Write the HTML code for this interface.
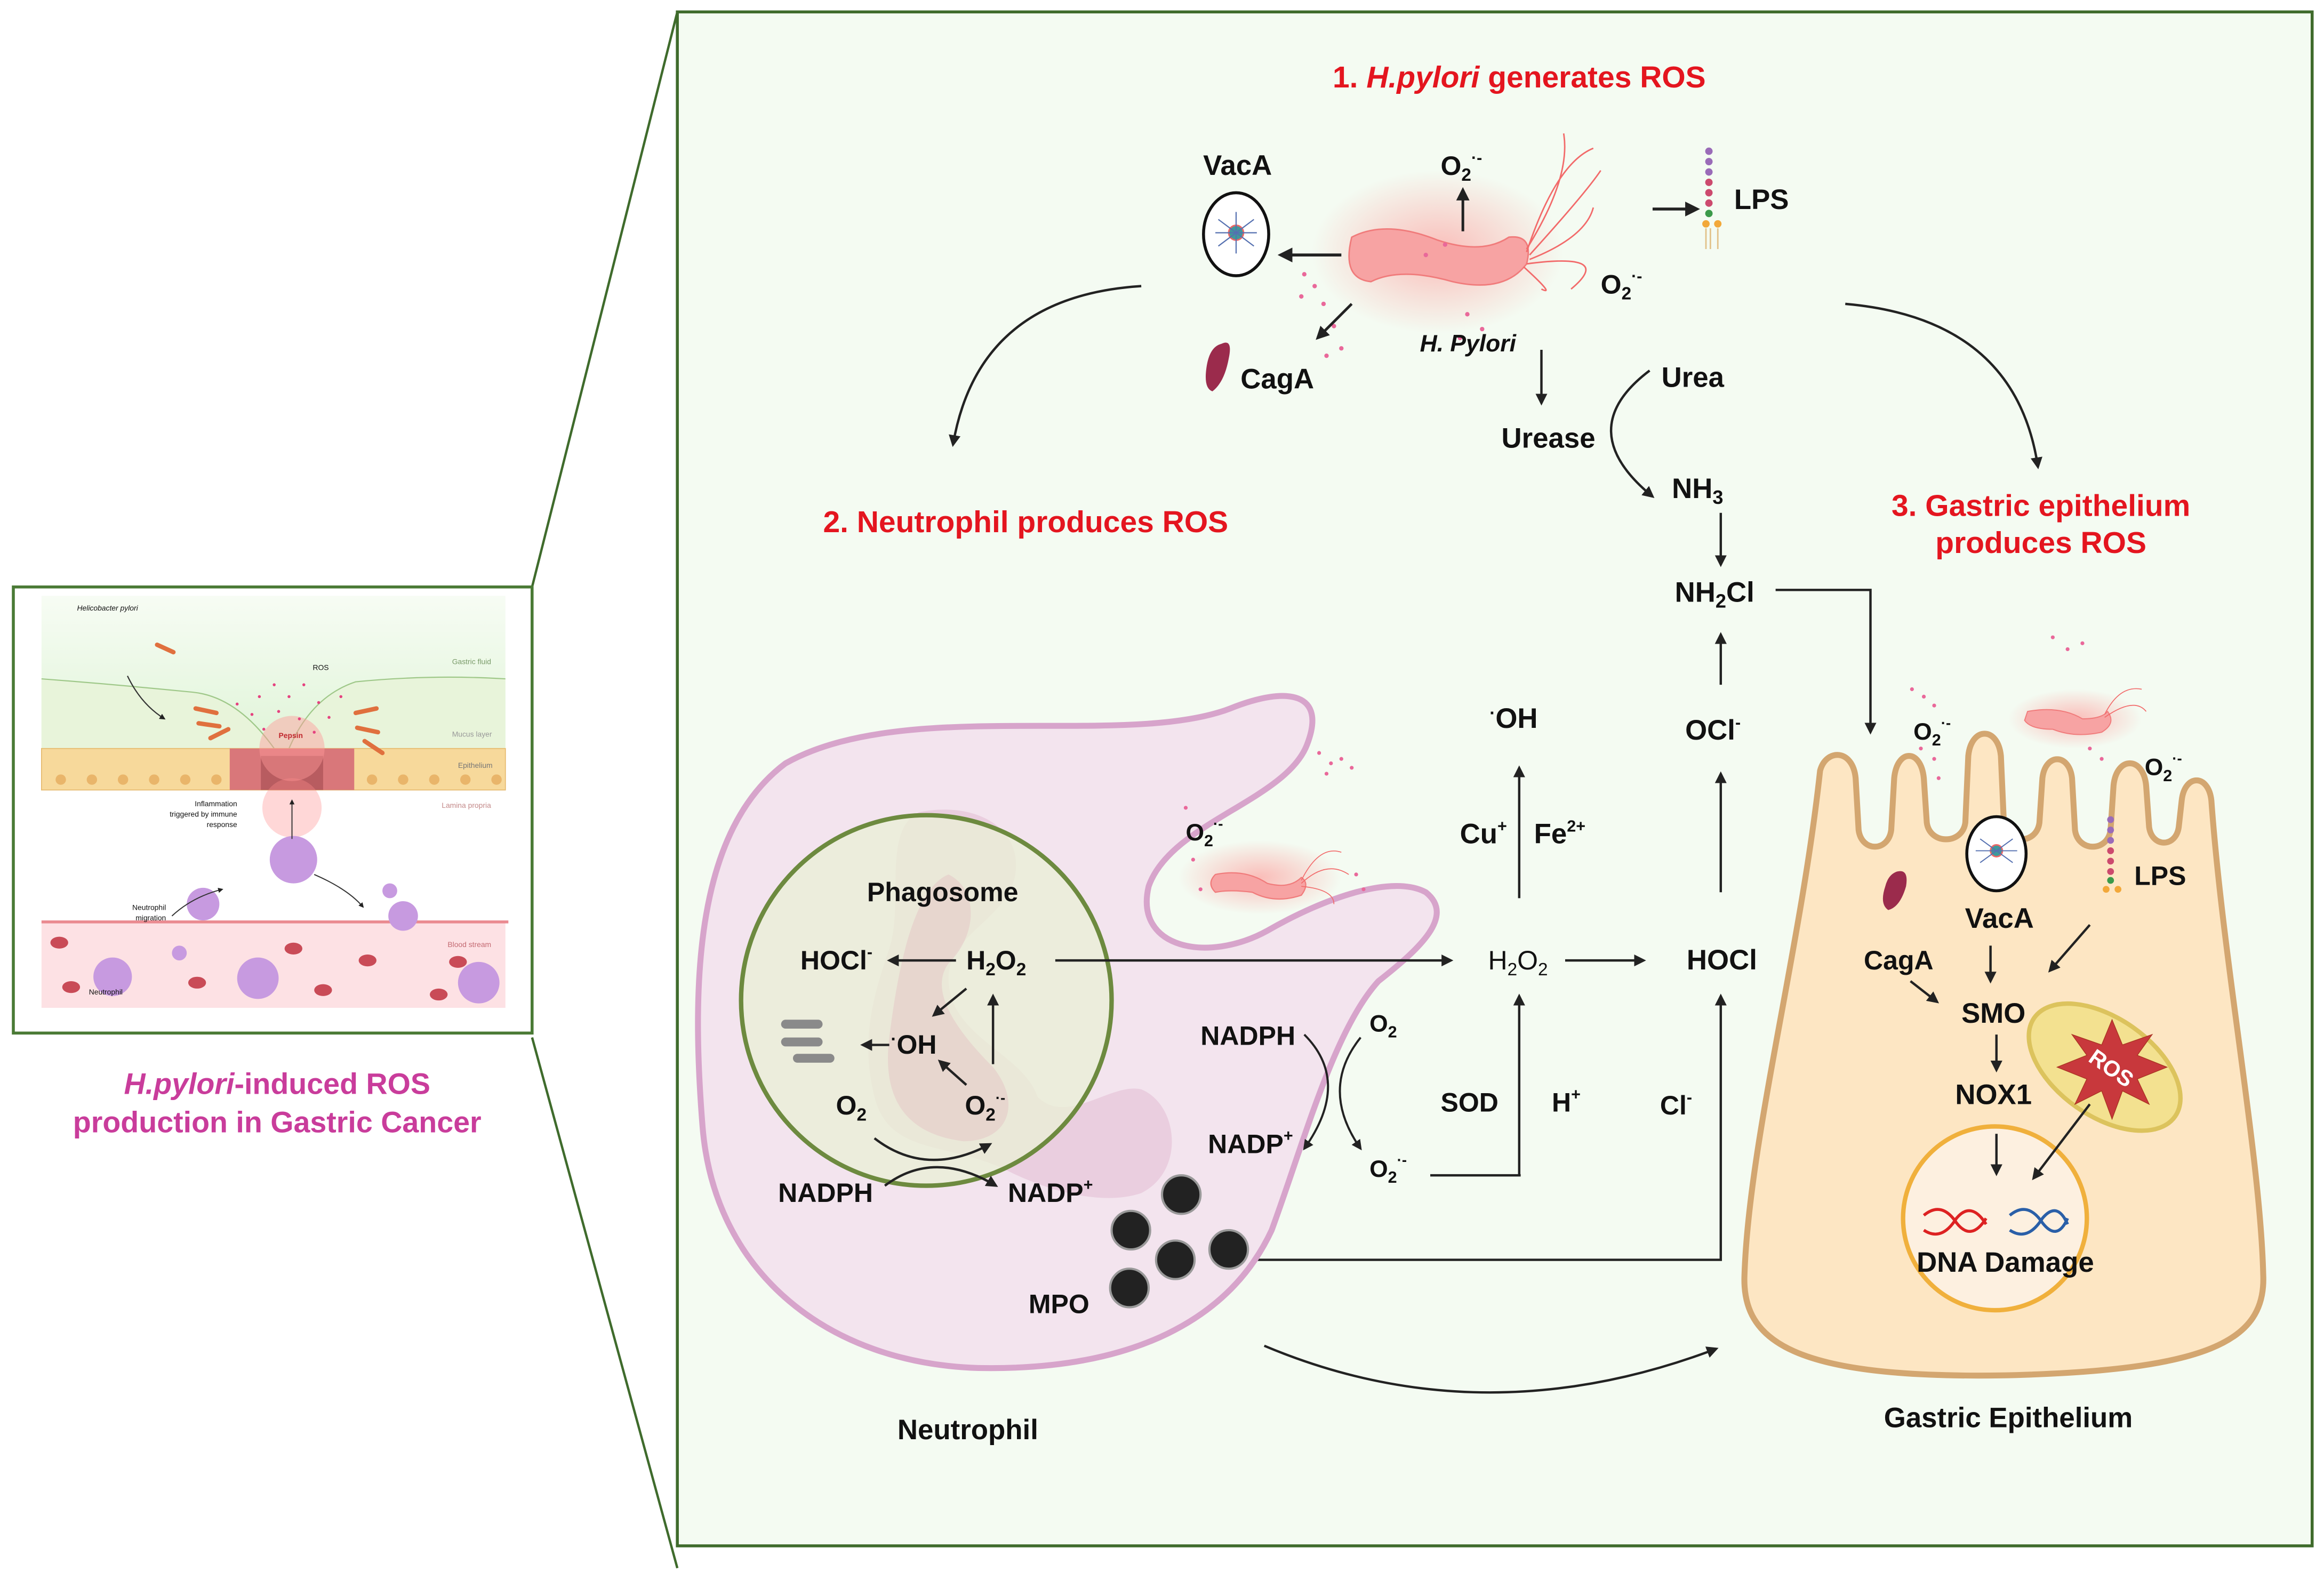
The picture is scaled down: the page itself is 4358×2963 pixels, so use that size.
<!DOCTYPE html>
<html><head><meta charset="utf-8"><style>
html,body{margin:0;padding:0;background:#fff;}
svg{display:block;}
text{font-family:"Liberation Sans",sans-serif;font-weight:bold;fill:#111;}
</style></head><body>
<svg width="4358" height="2963" viewBox="0 0 1568 1066" xmlns="http://www.w3.org/2000/svg">
<defs>
<marker id="ah" viewBox="0 0 10 10" refX="8" refY="5" markerWidth="5" markerHeight="5" orient="auto-start-reverse"><path d="M0,0 L10,5 L0,10 z" fill="#222"/></marker>
<radialGradient id="glow"><stop offset="0" stop-color="#ff8a8a" stop-opacity="0.55"/><stop offset="1" stop-color="#ff8a8a" stop-opacity="0"/></radialGradient>
<linearGradient id="fluid" x1="0" y1="0" x2="0" y2="1"><stop offset="0" stop-color="#f7fcf4"/><stop offset="1" stop-color="#def4d6"/></linearGradient>
</defs>
<rect width="1568" height="1066" fill="#fff"/>
<rect x="457" y="8" width="1103" height="1035" fill="#f4fbf2" stroke="#3f6b2c" stroke-width="2"/>
<line x1="359" y1="396" x2="457" y2="8" stroke="#3f6b2c" stroke-width="1.6"/>
<line x1="359" y1="700" x2="457" y2="1058" stroke="#3f6b2c" stroke-width="1.6"/>
<rect x="9" y="396" width="350" height="301" fill="#fff" stroke="#4a7a35" stroke-width="2"/>
<rect x="28" y="402" width="313" height="110" fill="url(#fluid)"/>
<path d="M28,458 Q80,462 130,467 Q160,470 185,505 L195,505 Q210,470 240,460 Q290,455 341,458 L341,512 L28,512 Z" fill="#e8f4da"/>
<path d="M28,458 Q80,462 130,467 Q160,470 185,505 M195,505 Q210,470 240,460 Q290,455 341,458" fill="none" stroke="#9fc889" stroke-width="0.8"/>
<rect x="28" y="505" width="313" height="28" fill="#f7d99b" stroke="#e5b96c" stroke-width="0.6"/>
<g fill="#e9b56a">
<circle cx="41" cy="526" r="3.5"/><circle cx="62" cy="526" r="3.5"/><circle cx="83" cy="526" r="3.5"/><circle cx="104" cy="526" r="3.5"/><circle cx="125" cy="526" r="3.5"/><circle cx="146" cy="526" r="3.5"/><circle cx="251" cy="526" r="3.5"/><circle cx="272" cy="526" r="3.5"/><circle cx="293" cy="526" r="3.5"/><circle cx="314" cy="526" r="3.5"/><circle cx="335" cy="526" r="3.5"/>
</g>
<rect x="155" y="505" width="84" height="28" fill="#d9777a"/>
<rect x="176" y="510" width="42" height="23" fill="#b85c60"/>
<circle cx="197" cy="505" r="22" fill="#ff9a9a" opacity="0.45"/>
<circle cx="197" cy="545" r="20" fill="#ff8d8d" opacity="0.35"/>
<rect x="28" y="622" width="313" height="58" fill="#fde1e4"/>
<line x1="28" y1="622" x2="343" y2="622" stroke="#ea8a90" stroke-width="2"/>
<g fill="#c94b57">
<ellipse cx="40" cy="636" rx="6" ry="4"/><ellipse cx="48" cy="666" rx="6" ry="4"/><ellipse cx="133" cy="663" rx="6" ry="4"/><ellipse cx="198" cy="640" rx="6" ry="4"/><ellipse cx="248" cy="648" rx="6" ry="4"/><ellipse cx="309" cy="649" rx="6" ry="4"/><ellipse cx="218" cy="668" rx="6" ry="4"/><ellipse cx="296" cy="671" rx="6" ry="4"/>
</g>
<g fill="#c79ae0">
<circle cx="76" cy="659" r="13"/><circle cx="174" cy="660" r="14"/><circle cx="323" cy="663" r="14"/><circle cx="198" cy="580" r="16"/><circle cx="137" cy="610" r="11"/><circle cx="272" cy="618" r="10"/><circle cx="263" cy="601" r="5"/><circle cx="121" cy="643" r="5"/>
</g>
<g fill="#e5427f">
<circle cx="175" cy="470" r="1"/><circle cx="185" cy="462" r="1"/><circle cx="195" cy="470" r="1"/><circle cx="205" cy="462" r="1"/><circle cx="215" cy="474" r="1"/><circle cx="170" cy="482" r="1"/><circle cx="188" cy="480" r="1"/><circle cx="202" cy="485" r="1"/><circle cx="222" cy="484" r="1"/><circle cx="178" cy="492" r="1"/><circle cx="212" cy="494" r="1"/><circle cx="160" cy="475" r="1"/><circle cx="230" cy="470" r="1"/>
</g>
<g stroke="#e0703e" stroke-width="3" stroke-linecap="round">
<line x1="106" y1="435" x2="117" y2="440"/><line x1="132" y1="478" x2="146" y2="481"/><line x1="134" y1="488" x2="148" y2="490"/><line x1="142" y1="498" x2="154" y2="492"/><line x1="240" y1="481" x2="254" y2="478"/><line x1="241" y1="491" x2="255" y2="494"/><line x1="246" y1="500" x2="258" y2="508"/>
</g>
<path d="M86,456 Q95,475 111,485" fill="none" stroke="#333" stroke-width="0.8" marker-end="url(#ah)"/>
<path d="M116,618 Q130,605 150,600" fill="none" stroke="#333" stroke-width="0.7" marker-end="url(#ah)"/>
<path d="M212,590 Q235,600 245,612" fill="none" stroke="#333" stroke-width="0.7" marker-end="url(#ah)"/>
<line x1="197" y1="566" x2="197" y2="540" stroke="#333" stroke-width="0.7" marker-end="url(#ah)"/>
<g style="font-weight:normal" font-size="5">
<text x="52" y="412" font-style="italic" style="font-weight:normal">Helicobacter pylori</text>
<text x="211" y="452" style="font-weight:normal">ROS</text>
<text x="305" y="448" style="font-weight:normal;fill:#7a9b6a">Gastric fluid</text>
<text x="305" y="497" style="font-weight:normal;fill:#999">Mucus layer</text>
<text x="309" y="518" style="font-weight:normal;fill:#777">Epithelium</text>
<text x="298" y="545" style="font-weight:normal;fill:#c48a8a">Lamina propria</text>
<text x="302" y="639" style="font-weight:normal;fill:#c46a72">Blood stream</text>
<text x="160" y="544" text-anchor="end" style="font-weight:normal">Inflammation</text>
<text x="160" y="551" text-anchor="end" style="font-weight:normal">triggered by immune</text>
<text x="160" y="558" text-anchor="end" style="font-weight:normal">response</text>
<text x="112" y="614" text-anchor="end" style="font-weight:normal">Neutrophil</text>
<text x="112" y="621" text-anchor="end" style="font-weight:normal">migration</text>
<text x="60" y="671" style="font-weight:normal">Neutrophil</text>
<text x="188" y="498" style="fill:#c0272d" font-size="5">Pepsin</text>
</g>
<text x="187" y="738" text-anchor="middle" font-size="20" style="fill:#c93c9b"><tspan font-style="italic">H.pylori</tspan>-induced ROS</text>
<text x="187" y="764" text-anchor="middle" font-size="20" style="fill:#c93c9b">production in Gastric Cancer</text>

<text x="1025" y="59" text-anchor="middle" font-size="20.5" style="fill:#e4151f">1.  <tspan font-style="italic">H.pylori</tspan> generates ROS</text>
<text x="692" y="359" text-anchor="middle" font-size="20.5" style="fill:#e4151f">2. Neutrophil produces ROS</text>
<text x="1377" y="348" text-anchor="middle" font-size="20.5" style="fill:#e4151f">3. Gastric epithelium</text>
<text x="1377" y="373" text-anchor="middle" font-size="20.5" style="fill:#e4151f">produces ROS</text>

<path d="M770,193 Q660,200 643,300" fill="none" stroke="#222" stroke-width="1.6" marker-end="url(#ah)"/>
<path d="M1245,205 Q1360,215 1375,315" fill="none" stroke="#222" stroke-width="1.6" marker-end="url(#ah)"/>

<ellipse cx="970" cy="170" rx="85" ry="55" fill="url(#glow)"/>
<path d="M912,160 Q935,148 970,162 Q1000,172 1018,160 Q1035,158 1030,178 Q1015,198 980,190 Q945,180 925,190 Q905,188 912,160 Z" fill="#f7a3a3" stroke="#f07b7b" stroke-width="1"/>
<g fill="none" stroke="#f26a6a" stroke-width="1">
<path d="M1030,168 Q1060,120 1055,90"/><path d="M1030,170 Q1050,110 1075,100"/><path d="M1032,172 Q1070,130 1080,115"/><path d="M1032,175 Q1070,160 1075,140"/><path d="M1030,178 Q1090,170 1060,195"/><path d="M1028,180 Q1050,200 1040,195"/>
</g>
<g fill="#e9689a">
<circle cx="880" cy="185" r="1.5"/><circle cx="887" cy="193" r="1.5"/><circle cx="878" cy="200" r="1.5"/><circle cx="893" cy="205" r="1.5"/><circle cx="900" cy="220" r="1.5"/><circle cx="905" cy="235" r="1.5"/><circle cx="895" cy="240" r="1.5"/><circle cx="990" cy="212" r="1.5"/><circle cx="1000" cy="222" r="1.5"/><circle cx="985" cy="228" r="1.5"/><circle cx="975" cy="165" r="1.5"/><circle cx="962" cy="172" r="1.5"/>
</g>
<ellipse cx="834" cy="158" rx="22" ry="28" fill="#fff" stroke="#111" stroke-width="2"/>
<circle cx="834" cy="157" r="5" fill="#3f9a9a" stroke="#e66" stroke-width="1"/>
<g stroke="#5570b0" stroke-width="0.8"><line x1="822" y1="148" x2="846" y2="166"/><line x1="822" y1="166" x2="846" y2="148"/><line x1="834" y1="143" x2="834" y2="171"/><line x1="820" y1="157" x2="848" y2="157"/></g>
<text x="835" y="118" text-anchor="middle" font-size="19">VacA</text>
<line x1="905" y1="172" x2="864" y2="172" stroke="#222" stroke-width="2" marker-end="url(#ah)"/>
<line x1="987" y1="156" x2="987" y2="128" stroke="#222" stroke-width="1.8" marker-end="url(#ah)"/>
<text x="972" y="118" font-size="18">O<tspan font-size="12" dy="4">2</tspan><tspan font-size="11" dy="-12">·-</tspan></text>
<text x="1080" y="198" font-size="18">O<tspan font-size="12" dy="4">2</tspan><tspan font-size="11" dy="-12">·-</tspan></text>
<line x1="1115" y1="141" x2="1145" y2="141" stroke="#222" stroke-width="2" marker-end="url(#ah)"/>
<g fill="#9a6bb8"><circle cx="1153" cy="102" r="2.5"/><circle cx="1153" cy="109" r="2.5"/><circle cx="1153" cy="116" r="2.5"/></g>
<g fill="#cc4a6e"><circle cx="1153" cy="123" r="2.5"/><circle cx="1153" cy="130" r="2.5"/><circle cx="1153" cy="137" r="2.5"/></g>
<circle cx="1153" cy="144" r="2.5" fill="#3b9a4a"/>
<circle cx="1151" cy="151" r="2.5" fill="#f2a83a"/><circle cx="1159" cy="151" r="2.5" fill="#f2a83a"/>
<g stroke="#e2c28a" stroke-width="1"><line x1="1151" y1="154" x2="1151" y2="168"/><line x1="1154" y1="154" x2="1154" y2="168"/><line x1="1159" y1="154" x2="1159" y2="168"/></g>
<text x="1170" y="141" font-size="19">LPS</text>
<path d="M824,232 Q832,228 829,242 Q826,258 818,264 Q812,262 814,248 Q816,234 824,232 Z" fill="#9b2b4c"/>
<text x="837" y="262" font-size="19">CagA</text>
<line x1="912" y1="205" x2="889" y2="228" stroke="#222" stroke-width="1.8" marker-end="url(#ah)"/>
<text x="958" y="237" font-size="16" font-style="italic">H. Pylori</text>
<line x1="1040" y1="236" x2="1040" y2="272" stroke="#222" stroke-width="1.6" marker-end="url(#ah)"/>
<text x="1013" y="302" font-size="19">Urease</text>
<text x="1121" y="261" font-size="19">Urea</text>
<path d="M1113,250 Q1060,290 1115,335" fill="none" stroke="#222" stroke-width="1.6" marker-end="url(#ah)"/>
<text x="1128" y="336" font-size="19">NH<tspan font-size="13" dy="4">3</tspan></text>
<line x1="1161" y1="346" x2="1161" y2="381" stroke="#222" stroke-width="1.6" marker-end="url(#ah)"/>
<text x="1130" y="406" font-size="19">NH<tspan font-size="13" dy="4">2</tspan><tspan dy="-4">Cl</tspan></text>
<polyline points="1198,398 1262,398 1262,494" fill="none" stroke="#222" stroke-width="1.6" marker-end="url(#ah)"/>
<line x1="1161" y1="462" x2="1161" y2="428" stroke="#222" stroke-width="1.6" marker-end="url(#ah)"/>
<text x="1137" y="499" font-size="19">OCl<tspan font-size="11" dy="-8">-</tspan></text>
<line x1="1161" y1="602" x2="1161" y2="522" stroke="#222" stroke-width="1.6" marker-end="url(#ah)"/>
<text x="1138" y="654" font-size="19">HOCl</text>
<text x="1005" y="491" font-size="19"><tspan font-size="12" dy="-6">·</tspan><tspan dy="6">OH</tspan></text>
<line x1="1025" y1="606" x2="1025" y2="518" stroke="#222" stroke-width="1.6" marker-end="url(#ah)"/>
<text x="985" y="569" font-size="19">Cu<tspan font-size="11" dy="-8">+</tspan></text>
<text x="1035" y="569" font-size="19">Fe<tspan font-size="11" dy="-8">2+</tspan></text>
<text x="1004" y="654" font-size="18" style="font-weight:normal">H<tspan font-size="12" dy="4">2</tspan><tspan dy="-4">O</tspan><tspan font-size="12" dy="4">2</tspan></text>
<line x1="1056" y1="648" x2="1109" y2="648" stroke="#222" stroke-width="1.6" marker-end="url(#ah)"/>
<line x1="1025" y1="793" x2="1025" y2="672" stroke="#222" stroke-width="1.6" marker-end="url(#ah)"/>
<line x1="965" y1="793" x2="1026" y2="793" stroke="#222" stroke-width="1.6"/>
<text x="972" y="750" font-size="18">SOD</text>
<text x="1047" y="750" font-size="18">H<tspan font-size="11" dy="-8">+</tspan></text>
<text x="1120" y="752" font-size="18">Cl<tspan font-size="11" dy="-8">-</tspan></text>
<polyline points="848,850 1161,850 1161,672" fill="none" stroke="#222" stroke-width="1.6" marker-end="url(#ah)"/>
<path d="M853,908 Q1000,970 1158,910" fill="none" stroke="#222" stroke-width="1.6" marker-end="url(#ah)"/>

<path d="M530,515 C610,470 760,505 830,478 C870,462 895,468 882,502 C868,540 790,555 775,598 C765,640 815,650 855,628 C895,605 940,590 962,602 C982,618 958,640 930,662 C900,695 880,770 858,830 C830,890 765,925 660,923 C560,920 482,860 474,760 C466,660 470,560 530,515 Z" fill="#f3e4ee" stroke="#d7a4cb" stroke-width="4"/>
<path d="M620,548 C660,540 690,560 685,590 C680,620 640,630 640,660 C640,700 690,710 700,740 C720,760 750,730 770,735 C795,745 800,790 770,805 C740,815 700,800 680,790 C640,770 600,780 590,740 C580,700 590,670 600,640 C610,610 595,560 620,548 Z" fill="#e2bcd3" opacity="0.55"/>
<circle cx="625" cy="675" r="125" fill="#eaf0d6" fill-opacity="0.75" stroke="#6d8a3f" stroke-width="3"/>
<path d="M640,590 C660,600 660,630 640,650 C625,670 650,700 670,720 C690,745 680,770 650,770 C610,765 595,740 600,700 C605,660 615,600 640,590 Z" fill="#e5c9c8" opacity="0.6"/>
<text x="636" y="608" text-anchor="middle" font-size="18">Phagosome</text>
<text x="540" y="654" font-size="18">HOCl<tspan font-size="11" dy="-8">-</tspan></text>
<line x1="645" y1="648" x2="600" y2="648" stroke="#222" stroke-width="1.6" marker-end="url(#ah)"/>
<text x="652" y="654" font-size="18">H<tspan font-size="12" dy="4">2</tspan><tspan dy="-4">O</tspan><tspan font-size="12" dy="4">2</tspan></text>
<line x1="652" y1="667" x2="630" y2="685" stroke="#222" stroke-width="1.6" marker-end="url(#ah)"/>
<line x1="670" y1="718" x2="670" y2="672" stroke="#222" stroke-width="1.6" marker-end="url(#ah)"/>
<text x="601" y="711" font-size="18"><tspan font-size="12" dy="-6">·</tspan><tspan dy="6">OH</tspan></text>
<line x1="600" y1="705" x2="582" y2="705" stroke="#222" stroke-width="1.6" marker-end="url(#ah)"/>
<g fill="#8a8a8a"><rect x="527" y="688" width="28" height="6" rx="3"/><rect x="527" y="700" width="28" height="6" rx="3"/><rect x="535" y="711" width="28" height="6" rx="3"/></g>
<line x1="652" y1="732" x2="634" y2="716" stroke="#222" stroke-width="1.6" marker-end="url(#ah)"/>
<text x="564" y="752" font-size="18">O<tspan font-size="12" dy="4">2</tspan></text>
<text x="651" y="752" font-size="18">O<tspan font-size="12" dy="4">2</tspan><tspan font-size="10" dy="-12">·-</tspan></text>
<path d="M590,768 Q625,795 668,772" fill="none" stroke="#222" stroke-width="1.6" marker-end="url(#ah)"/>
<text x="525" y="811" font-size="18">NADPH</text>
<path d="M597,800 Q630,775 672,800" fill="none" stroke="#222" stroke-width="1.6" marker-end="url(#ah)"/>
<text x="680" y="811" font-size="18">NADP<tspan font-size="11" dy="-8">+</tspan></text>
<g fill="#222" stroke="#999" stroke-width="1.5">
<circle cx="797" cy="806" r="13"/><circle cx="763" cy="830" r="13"/><circle cx="793" cy="850" r="13"/><circle cx="829" cy="843" r="13"/><circle cx="762" cy="869" r="13"/>
</g>
<text x="694" y="886" font-size="18">MPO</text>
<text x="653" y="971" text-anchor="middle" font-size="19">Neutrophil</text>
<text x="810" y="705" font-size="18">NADPH</text>
<text x="924" y="696" font-size="16">O<tspan font-size="11" dy="4">2</tspan></text>
<path d="M880,698 Q912,730 880,775" fill="none" stroke="#222" stroke-width="1.4" marker-end="url(#ah)"/>
<path d="M918,700 Q890,735 918,775" fill="none" stroke="#222" stroke-width="1.4" marker-end="url(#ah)"/>
<text x="815" y="778" font-size="18">NADP<tspan font-size="11" dy="-8">+</tspan></text>
<text x="924" y="794" font-size="16">O<tspan font-size="11" dy="4">2</tspan><tspan font-size="10" dy="-12">·-</tspan></text>
<line x1="712" y1="648" x2="979" y2="648" stroke="#222" stroke-width="1.6" marker-end="url(#ah)"/>
<ellipse cx="850" cy="592" rx="55" ry="25" fill="url(#glow)"/>
<path d="M820,590 Q840,586 855,596 Q870,600 878,592 Q884,596 878,604 Q860,610 845,602 Q830,600 820,602 Q814,596 820,590 Z" fill="#f7a3a3" stroke="#f07b7b" stroke-width="0.8"/>
<g fill="none" stroke="#f26a6a" stroke-width="0.6"><path d="M878,594 Q890,570 905,575"/><path d="M878,596 Q895,580 910,590"/><path d="M878,598 Q900,600 900,610"/></g>
<text x="800" y="567" font-size="16">O<tspan font-size="11" dy="4">2</tspan><tspan font-size="10" dy="-12">·-</tspan></text>
<g fill="#e9689a"><circle cx="890" cy="508" r="1.3"/><circle cx="898" cy="515" r="1.3"/><circle cx="905" cy="512" r="1.3"/><circle cx="895" cy="522" r="1.3"/><circle cx="912" cy="518" r="1.3"/><circle cx="805" cy="580" r="1.3"/><circle cx="810" cy="600" r="1.3"/><circle cx="915" cy="590" r="1.3"/><circle cx="920" cy="600" r="1.3"/><circle cx="800" cy="545" r="1.3"/></g>

<path d="M1228,520 C1232,505 1250,505 1252,525 L1254,560 C1256,575 1274,575 1276,560 L1278,525 C1280,505 1296,505 1298,525 L1300,555 C1302,570 1324,570 1326,555 L1328,510 C1330,490 1348,490 1350,510 L1352,555 C1354,570 1374,570 1376,555 L1378,525 C1380,508 1396,508 1398,525 L1400,560 C1402,575 1422,575 1424,560 L1426,530 C1428,510 1446,510 1448,530 L1450,558 C1452,572 1468,572 1470,558 L1472,540 C1474,522 1490,522 1492,540 C1500,650 1525,780 1527,860 C1529,905 1490,925 1350,928 C1210,930 1175,905 1177,860 C1180,770 1215,640 1228,520 Z" fill="#fde6c3" stroke="#d3a670" stroke-width="4"/>
<circle cx="1346" cy="822" r="62" fill="#fdf0e0" stroke="#f0b03c" stroke-width="3"/>
<g transform="rotate(35 1420 720)"><ellipse cx="1420" cy="720" rx="58" ry="33" fill="#f3e190" stroke="#dcc35d" stroke-width="3"/></g>
<polygon points="1425,688 1432,705 1452,698 1442,712 1462,720 1442,728 1450,745 1432,736 1425,755 1418,736 1400,745 1408,728 1388,720 1408,712 1398,698 1418,705" fill="#c8383c" stroke="#a32" stroke-width="0.5"/>
<text x="1425" y="726" text-anchor="middle" font-size="15" transform="rotate(35 1425 720)" style="fill:#fff">ROS</text>
<ellipse cx="1347" cy="576" rx="20" ry="25" fill="#fff" stroke="#111" stroke-width="2"/>
<circle cx="1347" cy="574" r="4" fill="#3f9a9a" stroke="#e66" stroke-width="1"/>
<g stroke="#5570b0" stroke-width="0.7"><line x1="1336" y1="566" x2="1358" y2="582"/><line x1="1336" y1="582" x2="1358" y2="566"/><line x1="1333" y1="574" x2="1361" y2="574"/></g>
<text x="1349" y="626" text-anchor="middle" font-size="19">VacA</text>
<path d="M1280,588 Q1288,586 1286,598 Q1282,612 1274,614 Q1268,610 1272,598 Q1274,590 1280,588 Z" fill="#9b2b4c"/>
<text x="1281" y="654" text-anchor="middle" font-size="18">CagA</text>
<line x1="1289" y1="662" x2="1307" y2="676" stroke="#222" stroke-width="1.6" marker-end="url(#ah)"/>
<line x1="1343" y1="638" x2="1343" y2="662" stroke="#222" stroke-width="1.6" marker-end="url(#ah)"/>
<line x1="1410" y1="624" x2="1383" y2="655" stroke="#222" stroke-width="1.6" marker-end="url(#ah)"/>
<text x="1345" y="690" text-anchor="middle" font-size="19">SMO</text>
<line x1="1347" y1="698" x2="1347" y2="722" stroke="#222" stroke-width="1.6" marker-end="url(#ah)"/>
<text x="1345" y="745" text-anchor="middle" font-size="19">NOX1</text>
<line x1="1347" y1="765" x2="1347" y2="792" stroke="#222" stroke-width="1.6" marker-end="url(#ah)"/>
<line x1="1410" y1="745" x2="1372" y2="795" stroke="#222" stroke-width="1.6" marker-end="url(#ah)"/>
<path d="M1298,820 Q1310,810 1320,825 Q1330,838 1340,822 M1298,830 Q1310,838 1320,822 Q1330,810 1340,826" fill="none" stroke="#d22" stroke-width="2"/>
<path d="M1356,820 Q1368,810 1378,825 Q1388,838 1395,822 M1356,830 Q1368,838 1378,822 Q1388,810 1395,826" fill="none" stroke="#2a5fa8" stroke-width="2"/>
<text x="1353" y="858" text-anchor="middle" font-size="19">DNA Damage</text>
<g fill="#9a6bb8"><circle cx="1424" cy="553" r="2.3"/><circle cx="1424" cy="560" r="2.3"/><circle cx="1424" cy="567" r="2.3"/></g>
<g fill="#cc4a6e"><circle cx="1424" cy="574" r="2.3"/><circle cx="1424" cy="581" r="2.3"/><circle cx="1424" cy="588" r="2.3"/></g>
<circle cx="1424" cy="594" r="2.3" fill="#3b9a4a"/>
<circle cx="1421" cy="600" r="2.3" fill="#f2a83a"/><circle cx="1429" cy="600" r="2.3" fill="#f2a83a"/>
<text x="1440" y="597" font-size="18">LPS</text>
<text x="1291" y="499" font-size="16">O<tspan font-size="11" dy="4">2</tspan><tspan font-size="10" dy="-12">·-</tspan></text>
<text x="1447" y="523" font-size="16">O<tspan font-size="11" dy="4">2</tspan><tspan font-size="10" dy="-12">·-</tspan></text>
<ellipse cx="1400" cy="485" rx="45" ry="20" fill="url(#glow)"/>
<path d="M1368,480 Q1390,476 1405,485 Q1418,485 1422,480 Q1428,488 1418,494 Q1400,498 1385,492 Q1370,492 1366,486 Z" fill="#f7a3a3" stroke="#f07b7b" stroke-width="0.7"/>
<g fill="none" stroke="#f26a6a" stroke-width="0.6"><path d="M1420,482 Q1430,462 1445,465"/><path d="M1420,484 Q1440,470 1448,480"/></g>
<g fill="#e9689a"><circle cx="1290" cy="465" r="1.3"/><circle cx="1298" cy="470" r="1.3"/><circle cx="1305" cy="476" r="1.3"/><circle cx="1296" cy="505" r="1.3"/><circle cx="1305" cy="512" r="1.3"/><circle cx="1308" cy="525" r="1.3"/><circle cx="1385" cy="430" r="1.3"/><circle cx="1395" cy="438" r="1.3"/><circle cx="1405" cy="434" r="1.3"/><circle cx="1410" cy="505" r="1.3"/><circle cx="1418" cy="512" r="1.3"/></g>
<text x="1355" y="963" text-anchor="middle" font-size="19">Gastric Epithelium</text>
</svg>
</body></html>
